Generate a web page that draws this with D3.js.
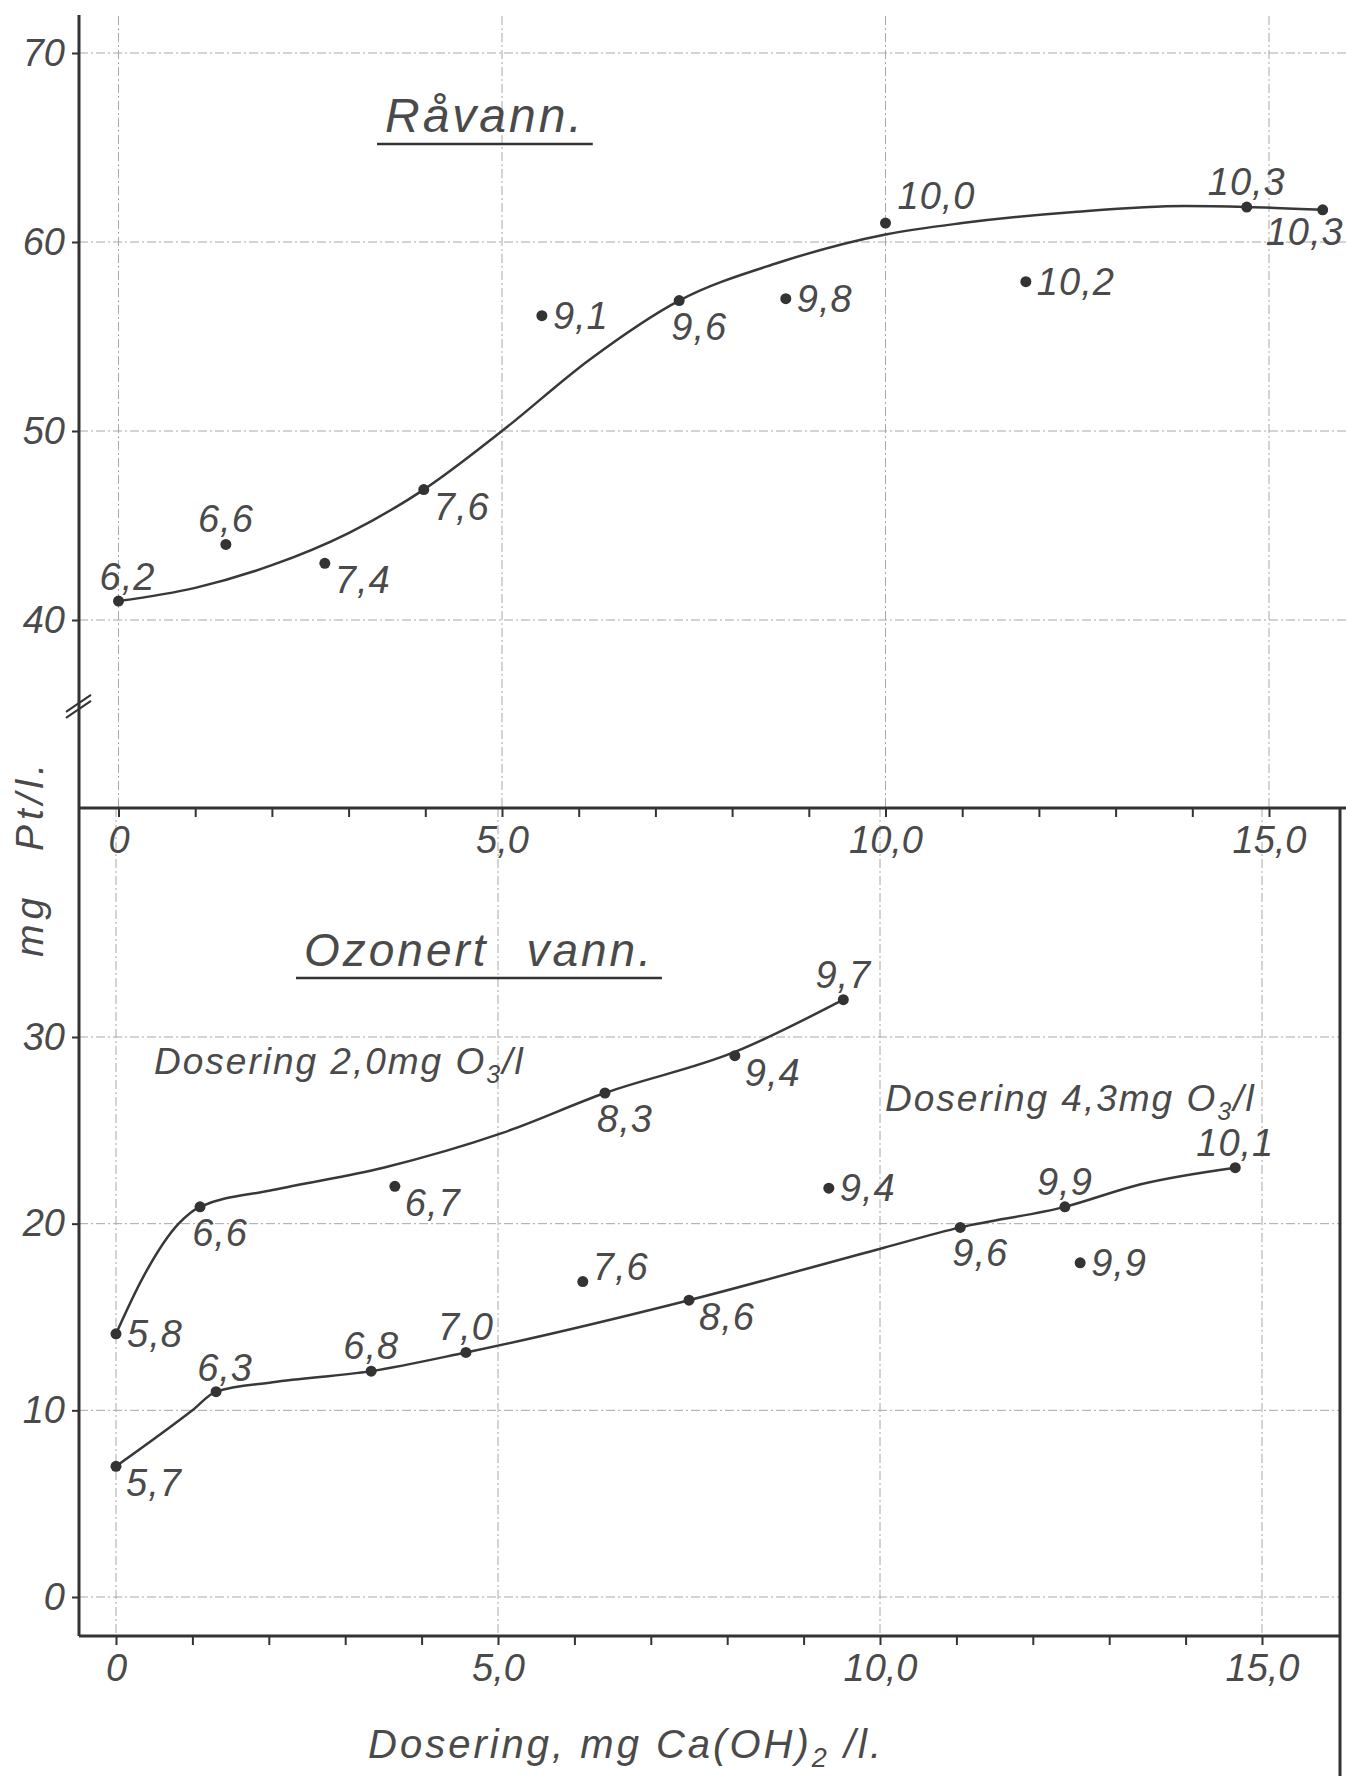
<!DOCTYPE html>
<html>
<head>
<meta charset="utf-8">
<script src="https://cdn.jsdelivr.net/npm/d3@7"></script>
<style>
  body { margin: 0; background: #fff; }
  text { font-family: "Liberation Sans", Arial, sans-serif; font-style: italic; fill: #4a4a4a; }
  .grid { stroke: #a8a8a8; stroke-width: 1; stroke-dasharray: 9 3 2 3; }
</style>
</head>
<body>
<svg id="chart" width="1346" height="1776"></svg>
<script>
// x = Dosering, mg Ca(OH)2/l   y = mg Pt/l   labels next to the points = pH

// axis ticks
const xTicks = [0, 5, 10, 15];
const xTickLabels = ["0", "5,0", "10,0", "15,0"];
const yTicksTop = [40, 50, 60, 70];
const yTicksBot = [0, 10, 20, 30];

// Råvann (measured points)
const rawX = [0, 1.40, 2.69, 3.98, 5.52, 7.31, 8.70, 10.0, 11.83, 14.71, 15.70];
const rawY = [41, 44, 43, 46.9, 56.1, 56.9, 57.0, 61.0, 57.9, 61.85, 61.7];
const rawPH = ["6,2", "6,6", "7,4", "7,6", "9,1", "9,6", "9,8", "10,0", "10,2", "10,3", "10,3"];
const rawSide = ["nr", "n", "se", "se", "e", "s", "e", "ne", "e", "n", "sw"];
// Råvann (hand drawn curve)
const rawCurveX = [0, 1, 2, 3, 3.98, 5, 6.15, 7.31, 8.6, 10, 11, 12.5, 13.9, 14.71, 15.70];
const rawCurveY = [41, 41.7, 42.9, 44.6, 46.9, 50, 53.8, 56.9, 58.9, 60.4, 61.0, 61.6, 61.9, 61.85, 61.7];

// Ozonert vann, dosering 2,0 mg O3/l
const oz20X = [0, 1.10, 3.65, 6.40, 8.10, 9.52];
const oz20Y = [14.1, 20.9, 22.0, 27.0, 29.0, 32.0];
const oz20PH = ["5,8", "6,6", "6,7", "8,3", "9,4", "9,7"];
const oz20Side = ["e", "s", "se", "s", "se", "n"];
const oz20CurveX = [0, 0.35, 0.82, 1.10, 2.05, 3.5, 5.05, 6.40, 8.10, 9.52];
const oz20CurveY = [14.1, 17.1, 20.0, 20.9, 21.8, 23.0, 24.85, 27.0, 29.2, 32.0];

// Ozonert vann, dosering 4,3 mg O3/l
const oz43X = [0, 1.31, 3.34, 4.58, 6.11, 7.50, 9.33, 11.05, 12.42, 12.62, 14.65];
const oz43Y = [7, 11, 12.1, 13.1, 16.9, 15.9, 21.9, 19.8, 20.9, 17.9, 23.0];
const oz43PH = ["5,7", "6,3", "6,8", "7,0", "7,6", "8,6", "9,4", "9,6", "9,9", "9,9", "10,1"];
const oz43Side = ["se", "nr", "n", "n", "en", "se", "e", "s", "n", "e", "n"];
const oz43CurveX = [0, 1.0, 1.31, 2.05, 3.34, 4.58, 7.50, 10.04, 11.05, 12.42, 13.4, 14.65];
const oz43CurveY = [7, 10.0, 11, 11.5, 12.1, 13.1, 15.9, 18.7, 19.8, 20.9, 22.1, 23.0];

// where a pH label sits relative to its dot: [dx, dy, anchor]
const sideOffsets = {
  n: [0, -12, "middle"],
  nr: [9, -11, "middle"],
  s: [20, 39, "middle"],
  sw: [-18, 35, "middle"],
  e: [11, 13, "start"],
  en: [10, -2, "start"],
  se: [10, 30, "start"],
  ne: [12, -14, "start"]
};

const svg = d3.select("#chart");

const axisX = 79;
const topAxisY = 808;
const botAxisY = 1636;
const frameRight = 1340;
const W = 1346;

// scales (the drawing is slightly skewed, so each panel gets its own)
const xTop = d3.scaleLinear().domain([0, 15]).range([118.5, 1269]);
const xBot = d3.scaleLinear().domain([0, 15]).range([116, 1262]);
const yTop = d3.scaleLinear().domain([40, 70]).range([620, 53]);
const yBot = d3.scaleLinear().domain([0, 30]).range([1597, 1037]);

// grid lines
const grid = svg.append("g");
grid.selectAll(".hTop").data(yTicksTop).enter().append("line")
  .attr("class", "grid")
  .attr("x1", axisX).attr("x2", W)
  .attr("y1", d => yTop(d)).attr("y2", d => yTop(d));
grid.selectAll(".vTop").data(xTicks).enter().append("line")
  .attr("class", "grid")
  .attr("x1", d => xTop(d)).attr("x2", d => xTop(d))
  .attr("y1", 16).attr("y2", topAxisY);
grid.selectAll(".hBot").data(yTicksBot).enter().append("line")
  .attr("class", "grid")
  .attr("x1", axisX).attr("x2", frameRight)
  .attr("y1", d => yBot(d)).attr("y2", d => yBot(d));
grid.selectAll(".vBot").data(xTicks).enter().append("line")
  .attr("class", "grid")
  .attr("x1", d => xBot(d)).attr("x2", d => xBot(d))
  .attr("y1", topAxisY).attr("y2", botAxisY);

// axes
function xAxisFor(scale) {
  return d3.axisBottom(scale)
    .tickValues(d3.range(0, 16))
    .tickSize(9)
    .tickFormat(function (d) {
      const i = xTicks.indexOf(d);
      return i >= 0 ? xTickLabels[i] : "";
    });
}

function styleAxis(g, isX) {
  g.select(".domain").remove();
  g.attr("color", "#333");
  g.selectAll("line").attr("stroke-width", 2);
  g.selectAll("text").style("font-size", "38px");
  if (isX) {
    g.selectAll("text").attr("y", 18);
  } else {
    g.selectAll("text").attr("x", -14);
  }
}

svg.append("g")
  .attr("transform", "translate(0," + topAxisY + ")")
  .call(xAxisFor(xTop))
  .call(g => styleAxis(g, true));

svg.append("g")
  .attr("transform", "translate(0," + botAxisY + ")")
  .call(xAxisFor(xBot))
  .call(g => styleAxis(g, true));

svg.append("g")
  .attr("transform", "translate(" + axisX + ",0)")
  .call(d3.axisLeft(yTop).tickValues(yTicksTop).tickSize(7).tickFormat(d3.format("d")))
  .call(g => styleAxis(g, false));

svg.append("g")
  .attr("transform", "translate(" + axisX + ",0)")
  .call(d3.axisLeft(yBot).tickValues(yTicksBot).tickSize(7).tickFormat(d3.format("d")))
  .call(g => styleAxis(g, false));

// frame lines
const frame = svg.append("g").attr("stroke", "#333").attr("stroke-width", 3);
frame.append("line").attr("x1", axisX).attr("x2", axisX).attr("y1", 15).attr("y2", botAxisY);
frame.append("line").attr("x1", axisX).attr("x2", W).attr("y1", topAxisY).attr("y2", topAxisY);
frame.append("line").attr("x1", axisX).attr("x2", frameRight).attr("y1", botAxisY).attr("y2", botAxisY);
frame.append("line").attr("x1", frameRight).attr("x2", frameRight).attr("y1", topAxisY).attr("y2", 1776);

// axis break on the upper y axis
const breakY = yTop(35.3);
[0, -6].forEach(function (off) {
  svg.append("line")
    .attr("x1", axisX - 13).attr("y1", breakY + 9 + off)
    .attr("x2", axisX + 12).attr("y2", breakY - 8 + off)
    .attr("stroke", "#333").attr("stroke-width", 2);
});

// curves + points + pH labels
function drawSeries(xs, ys, ph, side, cx, cy, xScale, yScale) {
  const curve = d3.zip(cx, cy);
  const line = d3.line()
    .x(d => xScale(d[0]))
    .y(d => yScale(d[1]))
    .curve(d3.curveMonotoneX);

  svg.append("path")
    .datum(curve)
    .attr("fill", "none")
    .attr("stroke", "#383838")
    .attr("stroke-width", 2.5)
    .attr("d", line);

  const pts = d3.zip(xs, ys, ph, side);

  svg.append("g").selectAll("circle").data(pts).enter().append("circle")
    .attr("cx", d => xScale(d[0]))
    .attr("cy", d => yScale(d[1]))
    .attr("r", 5.5)
    .attr("fill", "#333");

  svg.append("g").selectAll("text").data(pts).enter().append("text")
    .attr("x", d => xScale(d[0]) + sideOffsets[d[3]][0])
    .attr("y", d => yScale(d[1]) + sideOffsets[d[3]][1])
    .attr("text-anchor", d => sideOffsets[d[3]][2])
    .attr("letter-spacing", 1)
    .style("font-size", "38px")
    .text(d => d[2]);
}

drawSeries(rawX, rawY, rawPH, rawSide, rawCurveX, rawCurveY, xTop, yTop);
drawSeries(oz20X, oz20Y, oz20PH, oz20Side, oz20CurveX, oz20CurveY, xBot, yBot);
drawSeries(oz43X, oz43Y, oz43PH, oz43Side, oz43CurveX, oz43CurveY, xBot, yBot);

// underlined panel titles
function title(txt, x, y, size) {
  const t = svg.append("text")
    .attr("x", x).attr("y", y)
    .attr("letter-spacing", 3)
    .attr("word-spacing", 22)
    .style("font-size", size + "px")
    .text(txt);
  const b = t.node().getBBox();
  svg.append("line")
    .attr("x1", b.x - 8).attr("x2", b.x + b.width + 8)
    .attr("y1", y + 12).attr("y2", y + 12)
    .attr("stroke", "#333").attr("stroke-width", 2.5);
}
title("Råvann.", 385, 132, 48);
title("Ozonert vann.", 304, 966, 46);

// dosering labels with subscript 3
function dosering(amount, x, y) {
  const t = svg.append("text")
    .attr("x", x).attr("y", y)
    .attr("letter-spacing", 2)
    .style("font-size", "37px");
  t.append("tspan").text("Dosering " + amount + "mg O");
  t.append("tspan").attr("dy", 9).style("font-size", "25px").text("3");
  t.append("tspan").attr("dy", -9).text("/l");
}
dosering("2,0", 154, 1074);
dosering("4,3", 885, 1111);

// axis titles
svg.append("text")
  .attr("transform", "translate(43,858) rotate(-90)")
  .attr("text-anchor", "middle")
  .attr("letter-spacing", 5)
  .attr("word-spacing", 26)
  .style("font-size", "39px")
  .text("mg Pt/l.");

const xt = svg.append("text")
  .attr("x", 368).attr("y", 1758)
  .attr("letter-spacing", 3)
  .style("font-size", "40px");
xt.append("tspan").text("Dosering, mg Ca(OH)");
xt.append("tspan").attr("dy", 9).style("font-size", "27px").text("2");
xt.append("tspan").attr("dy", -9).text(" /l.");
</script>
</body>
</html>
